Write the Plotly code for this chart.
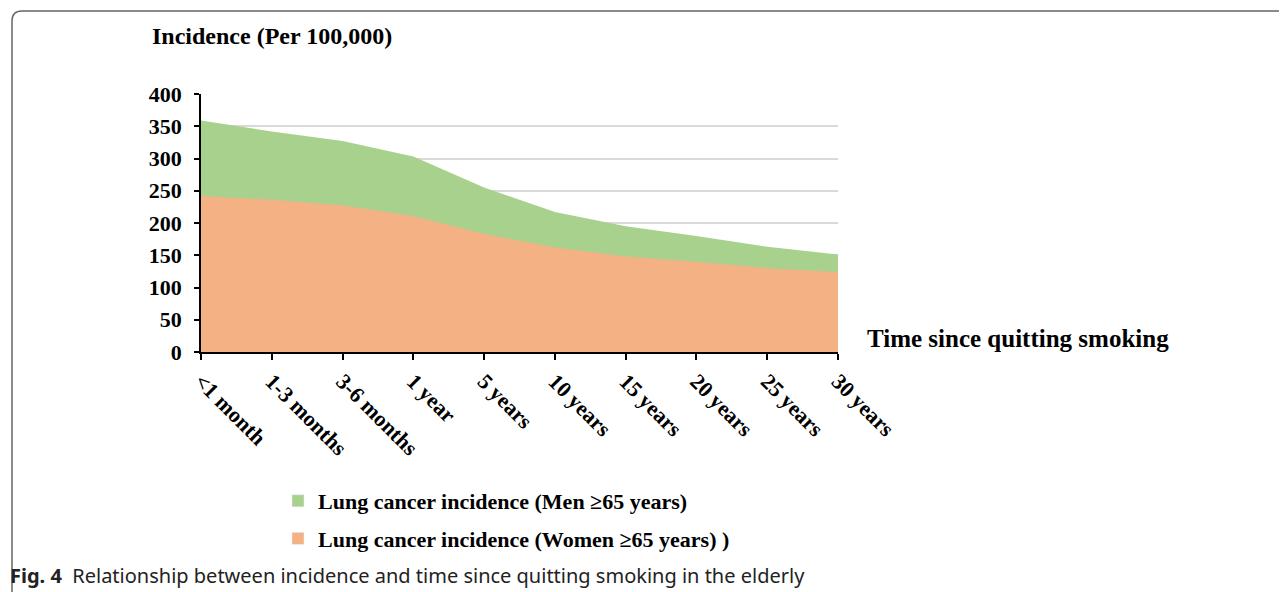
import plotly.graph_objects as go

categories = ["<1 month", "1-3 months", "3-6 months", "1 year", "5 years",
              "10 years", "15 years", "20 years", "25 years", "30 years"]
men = [359, 342, 327, 303, 255, 217, 195, 180, 163, 151]
women = [242, 236, 227, 211, 183, 162, 148, 140, 130, 124]
y_ticks = [0, 50, 100, 150, 200, 250, 300, 350, 400]

OFF = 8  # page body margin
W, H = 1287, 592
# plot area in screen pixels
SL, SR, ST, SB = 201, 838, 94, 352
L, R, T, B = SL - OFF, SR - OFF, ST - OFF, SB - OFF
PW, PH = R - L, B - T


def px2x(px):
    return (px - OFF - L) / PW


def px2y(py):
    return (B - (py - OFF)) / PH


GREEN = "#a9d18e"
ORANGE = "#f4b183"
SERIF = "Liberation Serif"

xs = list(range(len(categories)))

fig = go.Figure()
fig.add_trace(go.Scatter(x=xs, y=men, mode="lines", fill="tozeroy",
                         line=dict(width=0, color=GREEN), fillcolor=GREEN,
                         showlegend=False, hoverinfo="skip"))
fig.add_trace(go.Scatter(x=xs, y=women, mode="lines", fill="tozeroy",
                         line=dict(width=0, color=ORANGE), fillcolor=ORANGE,
                         showlegend=False, hoverinfo="skip"))
# legend entries
fig.add_trace(go.Bar(x=[None], y=[None], marker_color=GREEN, legendgroup="a",
                     name="Lung cancer incidence (Men \u226565 years)"))
fig.add_trace(go.Bar(x=[None], y=[None], marker_color=ORANGE, legendgroup="b",
                     name="Lung cancer incidence (Women \u226565 years) )"))

fig.update_layout(
    width=W, height=H,
    margin=dict(l=L, r=W - R, t=T, b=H - B, autoexpand=False),
    paper_bgcolor="white", plot_bgcolor="white",
    font=dict(family=SERIF, color="black"),
    xaxis=dict(range=[0, len(categories) - 1], tickvals=xs, ticktext=categories,
               tickangle=45, showgrid=False, zeroline=False,
               showline=True, linecolor="black", linewidth=1.5,
               ticks="outside", ticklen=6, tickcolor="black", tickwidth=1.5,
               tickfont=dict(family=SERIF, size=22, color="black", weight="bold")),
    yaxis=dict(range=[0, 400], tickvals=y_ticks, showgrid=True,
               gridcolor="#d9d9d9", gridwidth=1.5, zeroline=False,
               showline=True, linecolor="black", linewidth=1.5,
               ticks="outside", ticklen=5, tickcolor="black", tickwidth=1.5,
               ticklabelstandoff=8,
               tickfont=dict(family=SERIF, size=22, color="black", weight="bold")),
    legend=dict(x=px2x(278), y=px2y(480), xanchor="left", yanchor="top",
                orientation="v", itemwidth=30, tracegroupgap=6, traceorder="grouped",
                font=dict(family=SERIF, size=22, color="black", weight="bold"),
                bgcolor="rgba(0,0,0,0)"),
    showlegend=True,
)

fig.add_annotation(text="<b>Incidence (Per 100,000)</b>", xref="paper", yref="paper",
                   x=px2x(150), y=px2y(36), xanchor="left", yanchor="middle",
                   showarrow=False, font=dict(family=SERIF, size=24, color="black"))
fig.add_annotation(text="<b>Time since quitting smoking</b>", xref="paper", yref="paper",
                   x=px2x(865), y=px2y(338), xanchor="left", yanchor="middle",
                   showarrow=False, font=dict(family=SERIF, size=25, color="black"))
fig.add_annotation(text="<b>Fig. 4</b>  Relationship between incidence and time since quitting smoking in the elderly",
                   xref="paper", yref="paper",
                   x=px2x(8), y=px2y(575), xanchor="left", yanchor="middle",
                   showarrow=False, font=dict(family="Noto Sans", size=20, color="#222222"))

# frame with rounded top-left corner
x0, yt = px2x(12), px2y(11)
xr, yb = px2x(W + 20), px2y(H + 20)
rx, ry = 10 / PW, 10 / PH
fig.add_shape(type="path", xref="paper", yref="paper",
              path=f"M {x0},{yb} L {x0},{yt - ry} Q {x0},{yt} {x0 + rx},{yt} L {xr},{yt}",
              line=dict(color="#666666", width=1.5))

fig.write_html("out.html")
